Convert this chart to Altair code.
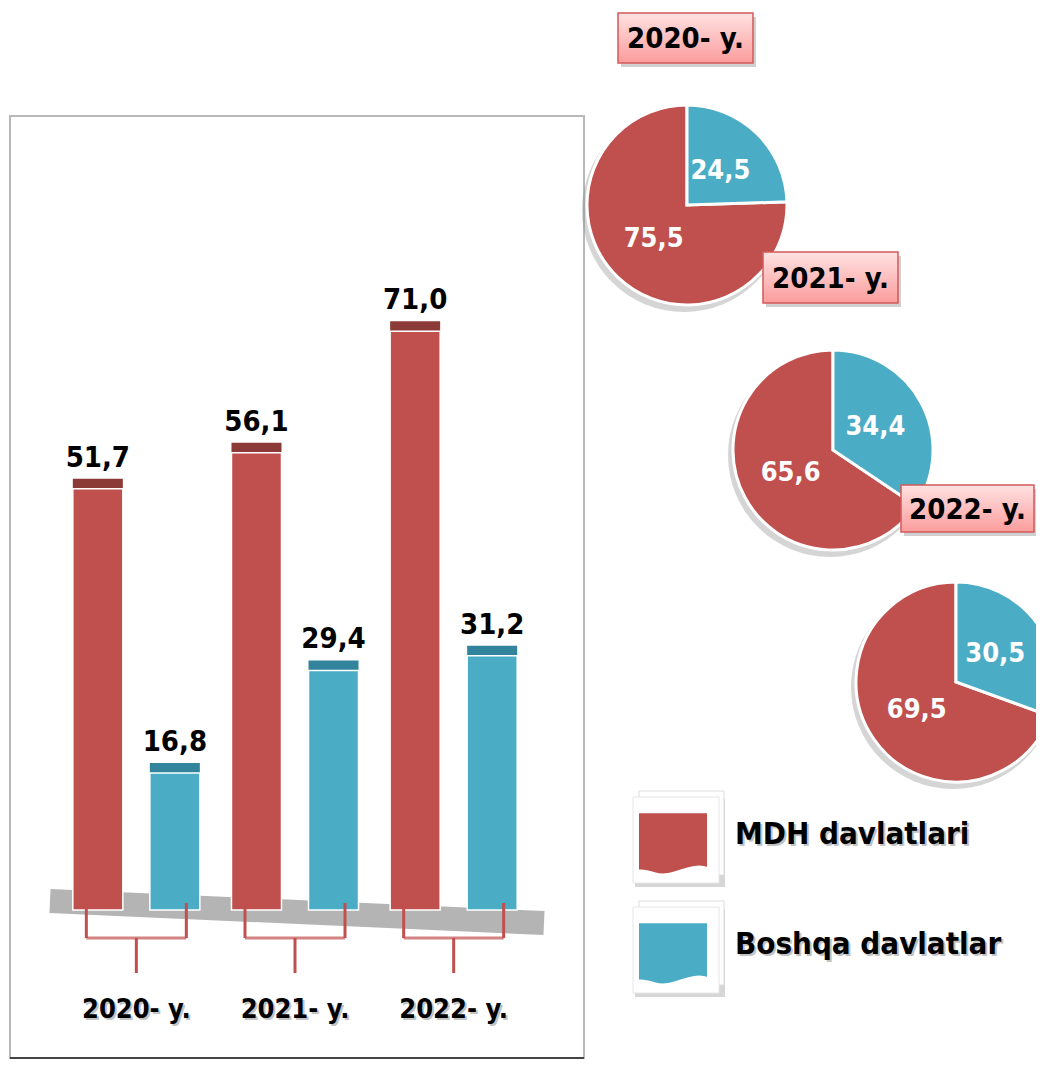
import altair as alt
import pandas as pd

# ---- data ----
years = ["2020- y.", "2021- y.", "2022- y."]
categories = ["MDH davlatlari", "Boshqa davlatlar"]
mdh_values = [51.7, 56.1, 71.0]
boshqa_values = [16.8, 29.4, 31.2]
mdh_share = [75.5, 65.6, 69.5]
boshqa_share = [24.5, 34.4, 30.5]

RED = "#C0504D"
BLUE = "#4BACC6"
DRED = "#8C3A38"
DBLUE = "#31849B"
FONT = "DejaVu Sans Condensed, Liberation Sans Narrow, sans-serif"

bars_df = pd.DataFrame({
    "year": years * 2,
    "cat": [categories[0]] * 3 + [categories[1]] * 3,
    "value": mdh_values + boshqa_values,
})
pie_df = pd.DataFrame({
    "year": years * 2,
    "cat": [categories[0]] * 3 + [categories[1]] * 3,
    "value": mdh_share + boshqa_share,
})
year_df = pd.DataFrame({"year": years})
cat_df = pd.DataFrame({"cat": categories})
one = pd.DataFrame({"k": [0]})

fmt = "replace(format(datum.value, '.1f'), '.', ',')"

LEGEND_PATH = "M-1,-0.85H1V0.75C0.5,0.55 0,1.05 -0.5,0.9C-0.75,0.82 -0.9,0.8 -1,0.82Z"
cscale = alt.Scale(domain=categories, range=[RED, BLUE])
cenc = alt.Color("cat:N", scale=cscale, legend=None)

xscale = alt.Scale(domain=years, range=[49, 525], paddingInner=0, paddingOuter=0)
xenc = alt.X("year:N", scale=xscale, axis=None)
xoff = alt.XOffset("cat:N", scale=alt.Scale(domain=categories, paddingInner=0, paddingOuter=0.03))
yenc = alt.Y("value:Q", scale=alt.Scale(domain=[0, 80], range=[902, 250], nice=False), axis=None)

layers = []

# left panel frame
layers.append(alt.Chart(one).mark_rect(fill="white", stroke="#B8B8B8", strokeWidth=2).encode(
    x=alt.value(2), x2=alt.value(576), y=alt.value(108), y2=alt.value(1050)))
layers.append(alt.Chart(one).mark_rule(color="#444", strokeWidth=2).encode(
    x=alt.value(2), x2=alt.value(576), y=alt.value(1050)))

# floor
layers.append(alt.Chart(one).mark_rule(color="#B4B4B4", strokeWidth=24).encode(
    x=alt.value(42), x2=alt.value(536), y=alt.value(893), y2=alt.value(915)))

# back (3D side) bars
layers.append(alt.Chart(bars_df).mark_bar(size=50, xOffset=7, yOffset=-10).encode(
    x=xenc, xOffset=xoff, y=yenc,
    fill=alt.Fill("cat:N", scale=alt.Scale(domain=categories, range=[DRED, DBLUE]), legend=None)))
# front bars
layers.append(alt.Chart(bars_df).mark_bar(size=50, stroke="white", strokeWidth=1.5).encode(
    x=xenc, xOffset=xoff, y=yenc, color=cenc))

# brackets
layers.append(alt.Chart(year_df).mark_tick(orient="horizontal", size=100, thickness=3, color=RED).encode(
    x=xenc, y=alt.value(930)))
for off in (-50, 50):
    layers.append(alt.Chart(year_df).mark_rule(color=RED, strokeWidth=3, xOffset=off).encode(
        x=xenc, y=alt.value(895), y2=alt.value(930)))
layers.append(alt.Chart(year_df).mark_rule(color=RED, strokeWidth=3).encode(
    x=xenc, y=alt.value(930), y2=alt.value(965)))

# bar value labels
layers.append(alt.Chart(bars_df).transform_calculate(lbl=fmt).mark_text(
    dy=-22, baseline="alphabetic", fontSize=29, fontWeight="bold", font=FONT, color="black").encode(
    x=xenc, xOffset=xoff, y=yenc, text="lbl:N"))

# category labels (with soft shadow)
layers.append(alt.Chart(year_df).mark_text(
    fontSize=27, fontWeight="bold", font=FONT, color="#888", opacity=0.5, dx=2, dy=2).encode(
    x=xenc, y=alt.value(1002), text="year:N"))
layers.append(alt.Chart(year_df).mark_text(
    fontSize=27, fontWeight="bold", font=FONT, color="black").encode(
    x=xenc, y=alt.value(1002), text="year:N"))

# pies
centers = [(679, 197), (825, 442), (948, 674)]
boxes = [(610, 5, 745, 55), (755, 244, 890, 295), (893, 477, 1026, 524)]
grad = alt.LinearGradient(
    gradient="linear",
    stops=[alt.GradientStop(color="#FFE2E2", offset=0), alt.GradientStop(color="#FB9C9C", offset=1)],
    x1=0, x2=0, y1=0, y2=1)

for yr, (cx, cy), (bx0, by0, bx1, by1) in zip(years, centers, boxes):
    layers.append(alt.Chart(one).mark_arc(radius=102, theta=0, theta2=6.2832, color="#888", opacity=0.35).encode(
        x=alt.value(cx - 3), y=alt.value(cy + 5)))
    layers.append(alt.Chart(pie_df).transform_filter(alt.datum.year == yr).mark_arc(
        radius=100, stroke="white", strokeWidth=3).encode(
        theta=alt.Theta("value:Q", stack=True),
        color=cenc,
        order=alt.Order("cat:N", sort="ascending"),
        x=alt.value(cx), y=alt.value(cy)))
    layers.append(alt.Chart(pie_df).transform_filter(alt.datum.year == yr).transform_calculate(lbl=fmt).mark_text(
        radius=48, fontSize=27, fontWeight="bold", font=FONT, color="white").encode(
        theta=alt.Theta("value:Q", stack=True),
        detail="cat:N",
        order=alt.Order("cat:N", sort="ascending"),
        text="lbl:N",
        x=alt.value(cx), y=alt.value(cy)))
    # title box
    layers.append(alt.Chart(one).mark_rect(color="#777", opacity=0.35).encode(
        x=alt.value(bx0 + 3), x2=alt.value(bx1 + 3), y=alt.value(by0 + 4), y2=alt.value(by1 + 4)))
    layers.append(alt.Chart(one).mark_rect(fill=grad, stroke="#D25A58", strokeWidth=1.5).encode(
        x=alt.value(bx0), x2=alt.value(bx1), y=alt.value(by0), y2=alt.value(by1)))
    layers.append(alt.Chart(pd.DataFrame({"year": [yr]})).mark_text(
        fontSize=29, fontWeight="bold", font=FONT, color="black", baseline="middle").encode(
        x=alt.value((bx0 + bx1) / 2), y=alt.value((by0 + by1) / 2 + 1), text="year:N"))

# legend (page-stack cards, swatches, labels)
legend_tops = [787, 897]
for cat, top in zip(categories, legend_tops):
    layers.append(alt.Chart(one).mark_rect(color="#777", opacity=0.3).encode(
        x=alt.value(627), x2=alt.value(717), y=alt.value(top + 4), y2=alt.value(top + 92)))
    layers.append(alt.Chart(one).mark_rect(fill="white", stroke="#DDDDDD", strokeWidth=1).encode(
        x=alt.value(631), x2=alt.value(716), y=alt.value(top - 4), y2=alt.value(top + 80)))
    layers.append(alt.Chart(one).mark_rect(fill="white", stroke="#E6E6E6", strokeWidth=1).encode(
        x=alt.value(625), x2=alt.value(711), y=alt.value(top + 2), y2=alt.value(top + 88)))
    layers.append(alt.Chart(cat_df).transform_filter(alt.datum.cat == cat).mark_point(
        shape=LEGEND_PATH, size=4900, filled=True, opacity=1, stroke="white", strokeWidth=2).encode(
        x=alt.value(665), y=alt.value(top + 47), color=cenc))
    layers.append(alt.Chart(cat_df).transform_filter(alt.datum.cat == cat).mark_text(
        align="left", baseline="middle", fontSize=31, fontWeight="bold", font=FONT,
        color="#888", opacity=0.5, dx=2, dy=2).encode(
        x=alt.value(727), y=alt.value(top + 40), text="cat:N"))
    layers.append(alt.Chart(cat_df).transform_filter(alt.datum.cat == cat).mark_text(
        align="left", baseline="middle", fontSize=31, fontWeight="bold", font=FONT, color="black").encode(
        x=alt.value(727), y=alt.value(top + 40), text="cat:N"))

chart = alt.layer(*layers).properties(
    width=1028, height=1052, padding=0,
    autosize=alt.AutoSizeParams(type="none"),
    background="white",
).configure_view(stroke=None)

chart.save("out.html", embed_options={"renderer": "svg", "actions": False})
